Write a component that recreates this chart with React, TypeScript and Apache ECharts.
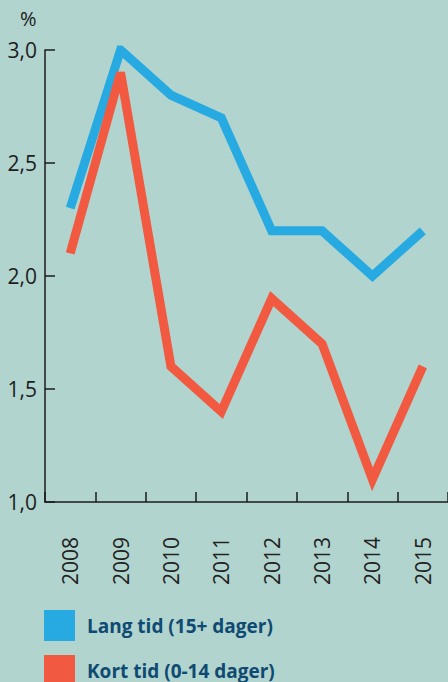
import React, { useEffect, useRef } from "react";
import * as echarts from "echarts";

const years = ["2008", "2009", "2010", "2011", "2012", "2013", "2014", "2015"];
const langTid = [2.3, 3.0, 2.8, 2.7, 2.2, 2.2, 2.0, 2.2];
const kortTid = [2.1, 2.9, 1.6, 1.4, 1.9, 1.7, 1.1, 1.6];
const seriesNames = ["Lang tid (15+ dager)", "Kort tid (0-14 dager)"];
const yMin = 1.0;
const yMax = 3.0;
const yStep = 0.5;

export default function App() {
  const ref = useRef<HTMLDivElement>(null);
  useEffect(() => {
    if (!ref.current) return;
    const chart = echarts.init(ref.current, undefined, { renderer: "svg" });
    const axisColor = "#1d1d1d";
    const legendBase = {
      orient: "vertical",
      left: 44,
      icon: "rect",
      itemWidth: 31,
      itemHeight: 31,
      padding: 0,
      textStyle: {
        fontFamily: "Open Sans",
        fontWeight: "bold",
        fontSize: 19,
        color: "#0f4a72",
        padding: [0, 0, 0, 7],
      },
    };
    chart.setOption({
      animation: false,
      backgroundColor: "#b1d4ce",
      textStyle: { fontFamily: "Open Sans" },
      grid: { left: 45, right: 0, top: 50, bottom: 180, containLabel: false },
      graphic: [
        {
          type: "text",
          left: 20,
          top: 8,
          style: { text: "%", fontSize: 20, fontFamily: "Open Sans", fill: "#1d1d1d" },
        },
      ],
      legend: [
        { ...legendBase, top: 610, data: [seriesNames[0]] },
        { ...legendBase, top: 655, data: [seriesNames[1]] },
      ],
      xAxis: {
        type: "category",
        data: years,
        boundaryGap: true,
        axisLine: { show: true, lineStyle: { color: axisColor, width: 1.5 } },
        axisTick: { show: true, inside: true, length: 10, lineStyle: { color: axisColor, width: 1.5 } },
        axisLabel: {
          rotate: 90,
          margin: 35,
          fontSize: 21,
          fontFamily: "Open Sans",
          color: "#222",
        },
        splitLine: { show: false },
      },
      yAxis: {
        type: "value",
        min: yMin,
        max: yMax,
        interval: yStep,
        axisLine: { show: true, lineStyle: { color: axisColor, width: 1.5 } },
        axisTick: { show: true, inside: true, length: 10, lineStyle: { color: axisColor, width: 1.5 } },
        axisLabel: {
          margin: 8,
          fontSize: 21,
          fontFamily: "Open Sans",
          color: "#1d1d1d",
          formatter: (v: number) => v.toFixed(1).replace(".", ","),
        },
        splitLine: { show: false },
      },
      series: [
        {
          name: seriesNames[0],
          type: "line",
          data: langTid,
          color: "#27aae1",
          symbol: "none",
          lineStyle: { width: 9, color: "#27aae1", cap: "butt", join: "miter" },
          z: 2,
        },
        {
          name: seriesNames[1],
          type: "line",
          data: kortTid,
          color: "#f15a40",
          symbol: "none",
          lineStyle: { width: 9, color: "#f15a40", cap: "butt", join: "miter" },
          z: 3,
        },
      ],
    });
    return () => chart.dispose();
  }, []);
  return <div ref={ref} style={{ width: 448, height: 682, position: "absolute", left: 0, top: 0 }} />;
}
